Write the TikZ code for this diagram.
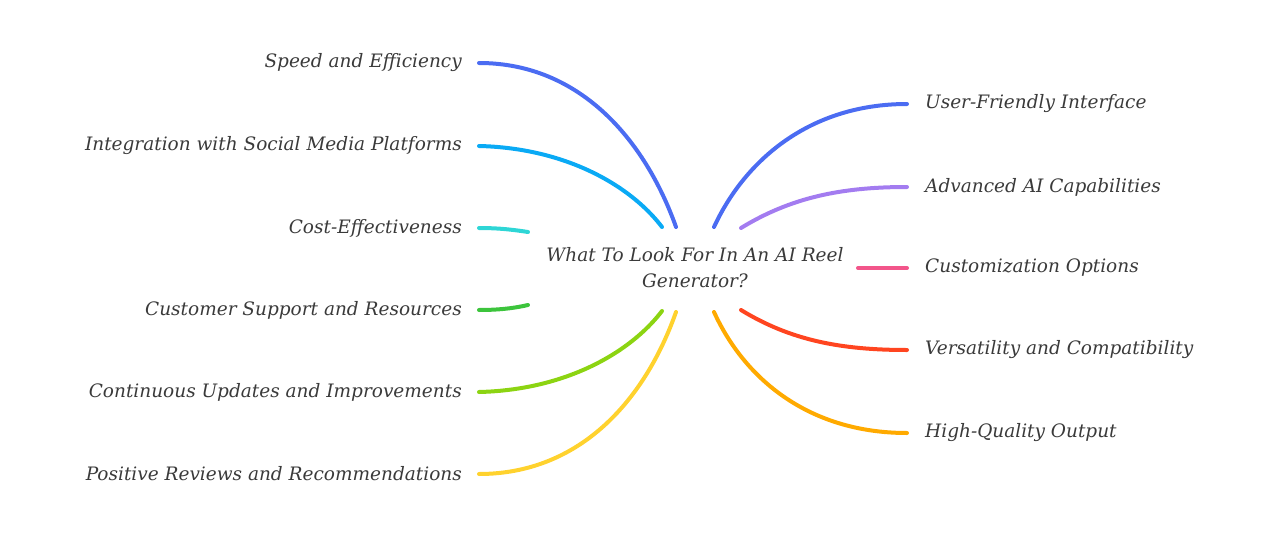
\documentclass[tikz,border=0pt]{standalone}
\usepackage{fontspec}
\setmainfont{DejaVu Serif}
\usepackage{xcolor}
\usetikzlibrary{positioning,calc}
\definecolor{mText}{HTML}{3A3A3A}
\definecolor{mBlue}{HTML}{4B6CF2}
\definecolor{mSky}{HTML}{0AAAF5}
\definecolor{mTeal}{HTML}{2ED6D6}
\definecolor{mGreen}{HTML}{3CC43C}
\definecolor{mLime}{HTML}{8CD412}
\definecolor{mYellow}{HTML}{FFD22E}
\definecolor{mOrange}{HTML}{FFAA00}
\definecolor{mRed}{HTML}{FF4520}
\definecolor{mPink}{HTML}{F2558A}
\definecolor{mPurple}{HTML}{A37CF0}
\tikzset{
  leaf/.style={font=\fontsize{18.5}{22}\selectfont\itshape, text=mText, inner sep=0pt},
  lleaf/.style={leaf, anchor=east},
  rleaf/.style={leaf, anchor=west},
  root/.style={font=\fontsize{18.5}{26}\selectfont\itshape, text=mText, align=center,
               inner sep=0pt},
  branch/.style={line width=4pt, line cap=round},
}

\begin{document}
\begin{tikzpicture}[x=1pt, y=-1pt]
\useasboundingbox (0,0) rectangle (1277,543);

%% ── the topic ────────────────────────────────────────────────────────────
\node[root] (topic) at (695,268) {What To Look For In An AI Reel\\Generator?};

%% ── left side ────────────────────────────────────────────────────────────
\node[lleaf] (speed) at (462,63)  {Speed and Efficiency};
\node[lleaf] (social) at (462,146) {Integration with Social Media Platforms};
\node[lleaf] (cost) at (462,228) {Cost-Effectiveness};
\node[lleaf] (support) at (462,310) {Customer Support and Resources};
\node[lleaf] (updates) at (462,392) {Continuous Updates and Improvements};
\node[lleaf] (reviews) at (462,474) {Positive Reviews and Recommendations};

%% ── right side ───────────────────────────────────────────────────────────
\node[rleaf] (ui) at (925,104) {User-Friendly Interface};
\node[rleaf] (ai) at (925,187) {Advanced AI Capabilities};
\node[rleaf] (custom) at (925,268) {Customization Options};
\node[rleaf] (versat) at (925,350) {Versatility and Compatibility};
\node[rleaf] (quality) at (925,433) {High-Quality Output};

%% inner ends of the branches, round the topic
\coordinate (speedIn) at (676,227);
\coordinate (socialIn) at (662,227);
\coordinate (costIn) at (528,232);
\coordinate (supportIn) at (528,305);
\coordinate (updatesIn) at (662,311);
\coordinate (reviewsIn) at (676,312);
\coordinate (uiIn) at (714,227);
\coordinate (aiIn) at (741,228);
\coordinate (customIn) at (858,268);
\coordinate (versatIn) at (741,310);
\coordinate (qualityIn) at (714,312);

%% ── branches ─────────────────────────────────────────────────────────────
\draw[branch, mBlue] ([xshift=17pt]speed.east) .. controls (580,63) and (645,140) .. (speedIn);
\draw[branch, mSky] ([xshift=17pt]social.east) .. controls (565,148) and (630,185) .. (socialIn);
\draw[branch, mTeal] ([xshift=17pt]cost.east) .. controls (500,228) and (515,230) .. (costIn);
\draw[branch, mGreen] ([xshift=17pt]support.east) .. controls (500,310) and (515,308) .. (supportIn);
\draw[branch, mLime] ([xshift=17pt]updates.east) .. controls (565,390) and (630,353) .. (updatesIn);
\draw[branch, mYellow] ([xshift=17pt]reviews.east) .. controls (580,474) and (645,400) .. (reviewsIn);

\draw[branch, mBlue] (uiIn) .. controls (745,160) and (810,104) .. ([xshift=-18pt]ui.west);
\draw[branch, mPurple] (aiIn) .. controls (790,198) and (840,187) .. ([xshift=-18pt]ai.west);
\draw[branch, mPink] (customIn) -- ([xshift=-18pt]custom.west);
\draw[branch, mRed] (versatIn) .. controls (790,340) and (840,350) .. ([xshift=-18pt]versat.west);
\draw[branch, mOrange] (qualityIn) .. controls (745,380) and (810,433) .. ([xshift=-18pt]quality.west);

\end{tikzpicture}
\end{document}
